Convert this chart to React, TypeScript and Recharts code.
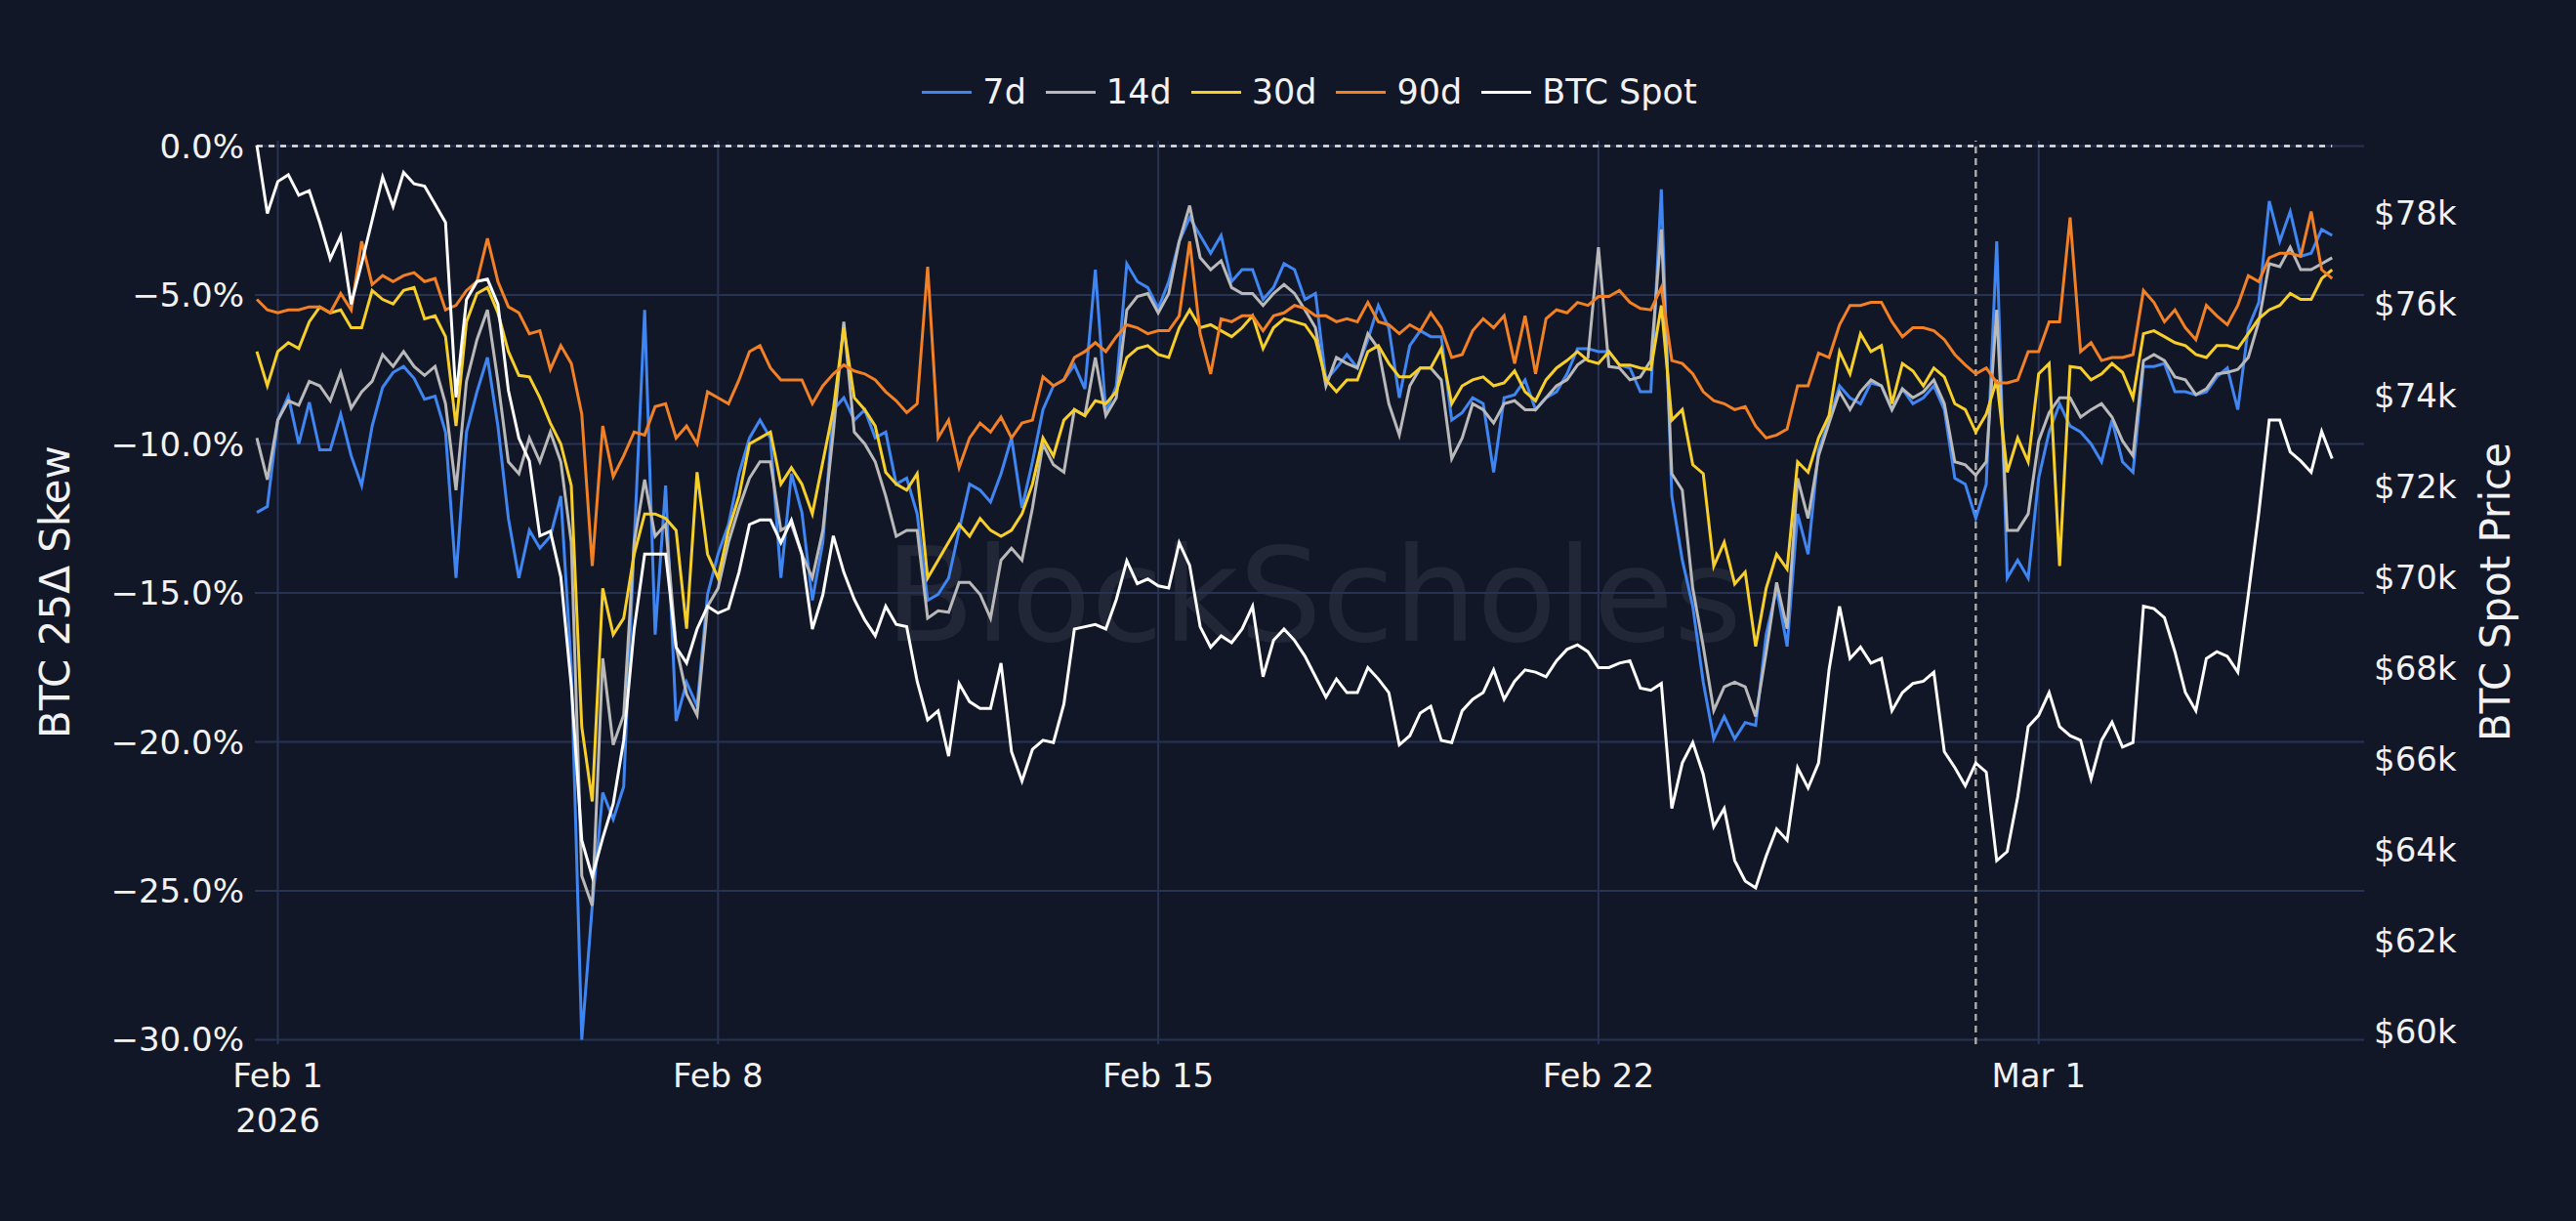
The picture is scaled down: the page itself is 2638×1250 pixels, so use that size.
import React from 'react'
import {
  LineChart,
  Line,
  XAxis,
  YAxis,
  CartesianGrid,
  Legend,
  ReferenceLine
} from 'recharts'

// 4-hourly samples, first one at Jan 31 16:00 UTC
const START = Date.UTC(2026, 0, 31, 16)
const STEP = 4 * 3600 * 1000
const DAY = 86400000
const FEB1 = Date.UTC(2026, 1, 1)

const dateTicks = [FEB1, FEB1 + 7 * DAY, FEB1 + 14 * DAY, FEB1 + 21 * DAY, FEB1 + 28 * DAY]
const skewTicks = [0, -5, -10, -15, -20, -25, -30]
const spotTicks = [60, 62, 64, 66, 68, 70, 72, 74, 76, 78]
const MONTHS = ['Jan', 'Feb', 'Mar']

// 25 delta skew, %
const skew7d = [
  -12.3, -12.1, -9.2, -8.4, -10.0, -8.6, -10.2, -10.2, -9.0, -10.4, -11.4, -9.4, -8.1, -7.6, -7.4, -7.8, -8.5,
  -8.4, -9.6, -14.5, -9.6, -8.25, -7.1, -9.4, -12.5, -14.5, -12.9, -13.5, -13.1, -11.75, -17.5, -30.0, -25.5,
  -21.7, -22.6, -21.5, -13.3, -5.5, -16.4, -11.4, -19.3, -18.0, -18.8, -15.05, -13.7, -12.7, -11.0, -9.8, -9.2,
  -9.8, -14.5, -11.0, -12.3, -15.25, -13.3, -8.85, -8.45, -9.2, -8.85, -9.8, -9.6, -11.35, -11.15, -12.35, -15.25,
  -15.05,
  -14.5, -12.9, -11.35, -11.55, -11.95, -11.0, -9.8, -12.15, -10.6, -8.85, -8.05, -7.85, -7.35, -8.15, -4.15,
  -8.95, -8.05, -3.95, -4.55, -4.75, -5.45, -4.55, -3.2, -2.4, -3.0, -3.6, -3.0, -4.55, -4.15, -4.15, -5.15, -4.75,
  -3.95, -4.15,
  -5.15, -4.95, -7.85, -7.45, -7.0, -7.45, -6.5, -5.35, -6.1, -8.45, -6.7, -6.2, -6.4, -6.4, -9.2, -8.95, -8.45,
  -8.65, -10.95, -8.45, -8.35, -7.85, -8.85, -8.45, -8.25, -7.65, -6.8, -6.8, -6.9, -6.9, -7.35, -7.45, -8.25,
  -8.25, -1.45, -11.75, -13.9, -15.45, -18.0, -19.9, -19.15, -19.9, -19.35, -19.45, -16.4, -14.85, -16.8, -12.35,
  -13.7, -10.2, -9.2, -8.05, -8.45, -8.65, -7.95, -8.05, -8.85, -8.15, -8.65, -8.45, -8.05, -8.85, -11.15, -11.35,
  -12.5, -11.35,
  -3.2, -14.5, -13.9, -14.5, -11.15, -9.6, -8.65, -9.4, -9.6, -10.0, -10.6, -9.2, -10.6, -10.95, -7.4, -7.4, -7.3,
  -8.25, -8.25, -8.35, -8.25, -7.75, -7.45, -8.85, -6.1, -5.25, -1.85, -3.2, -2.2, -3.7, -3.6, -2.8, -3.0
]

const skew14d = [
  -9.8, -11.2, -9.2, -8.55, -8.7, -7.9, -8.05, -8.55, -7.6, -8.8, -8.25, -7.9, -7.0, -7.4, -6.9, -7.4, -7.7, -7.4,
  -8.65, -11.55, -7.9, -6.5, -5.5, -7.9, -10.6, -11.0, -9.8, -10.6, -9.6, -10.6, -13.3, -24.5, -25.5,
  -17.2, -20.1, -19.1, -13.3, -11.2, -13.1, -12.7, -16.8, -18.4, -19.1, -15.45, -14.85, -13.3, -12.15, -11.15,
  -10.6, -10.6, -12.9, -12.7, -13.7, -14.5, -12.9, -9.6, -5.9, -9.6, -10.0, -10.6, -11.75, -13.1, -12.9, -12.9,
  -15.85, -15.6,
  -15.65, -14.65, -14.65, -15.05, -15.85, -13.9, -13.5, -13.9, -12.15, -10.0, -10.7, -10.95, -8.85, -9.05, -7.1,
  -9.05, -8.45, -5.5, -5.05, -4.95, -5.6, -4.95, -3.2, -2.0, -3.75, -4.15, -3.85, -4.75, -4.95, -4.95, -5.35, -4.95,
  -4.65, -4.95,
  -5.5, -6.1, -8.05, -7.1, -7.3, -7.45, -6.3, -6.8, -8.65, -9.7, -8.05, -7.45, -7.45, -7.85, -10.5, -9.8, -8.65,
  -8.85, -9.3, -8.65, -8.55, -8.85, -8.85, -8.45, -8.05, -7.85, -7.35, -7.1, -3.4, -7.4, -7.45, -7.85, -7.75,
  -7.2, -2.8, -11.0, -11.55, -14.85, -16.8, -18.95, -18.15, -18.0, -18.15, -19.15, -17.0, -14.65, -16.2, -11.15,
  -12.5, -10.4, -9.3, -8.25, -8.85, -8.25, -7.85, -8.05, -8.85, -8.15, -8.45, -8.25, -7.85, -8.65, -10.6, -10.7,
  -11.05, -10.6,
  -5.5, -12.9, -12.9, -12.35, -9.9, -8.95, -8.45, -8.45, -9.1, -8.85, -8.65, -9.1, -9.9, -10.4, -7.2, -7.0, -7.2,
  -7.75, -7.85, -8.35, -8.15, -7.65, -7.6, -7.5, -7.1, -5.9, -3.95, -4.05, -3.4, -4.15, -4.15, -3.95, -3.75
]

const skew30d = [
  -6.9, -8.05, -6.9, -6.6, -6.8, -5.9, -5.4, -5.6, -5.5, -6.1, -6.1, -4.85, -5.15, -5.3, -4.85, -4.75, -5.8, -5.7,
  -6.4, -9.4, -5.9, -4.95, -4.75, -5.6, -6.9, -7.7, -7.75, -8.45, -9.3, -10.0, -11.4, -19.5, -22.0,
  -14.85, -16.4, -15.85, -13.7, -12.35, -12.35, -12.5, -12.9, -16.2, -10.95, -13.7, -14.5, -12.9, -11.75, -10.0,
  -9.8, -9.6, -11.35, -10.8, -11.35, -12.35, -10.6, -8.85, -6.1, -8.45, -8.85, -9.4, -10.95, -11.35, -11.55, -11.0,
  -14.5, -13.9,
  -13.3, -12.7, -13.1, -12.5, -12.9, -13.1, -12.9, -12.35, -11.35, -9.8, -10.4, -9.2, -8.85, -9.05, -8.55, -8.65,
  -8.25, -7.1, -6.8, -6.7, -7.0, -7.1, -6.1, -5.5, -6.1, -6.0, -6.2, -6.4, -6.1, -5.7, -6.8, -6.1, -5.8, -5.9,
  -6.0, -6.5, -7.85, -8.25, -7.85, -7.85, -6.9, -6.7, -7.3, -7.75, -7.75, -7.45, -7.45, -6.8, -8.65, -8.05, -7.85,
  -7.75, -8.05, -7.95, -7.55, -8.25, -8.55, -7.85, -7.45, -7.2, -6.9, -7.2, -7.3, -6.9, -7.35, -7.35, -7.45,
  -7.5, -5.35, -9.2, -8.85, -10.7, -11.0, -14.1, -13.3, -14.7, -14.3, -16.8, -14.85, -13.7, -14.2, -10.6, -10.95,
  -9.8, -9.05, -6.9, -7.65, -6.3, -6.9, -6.7, -8.65, -7.3, -7.55, -8.05, -7.45, -7.75, -8.65, -8.85, -9.6, -9.0,
  -7.85, -10.95, -9.8, -10.6, -7.65, -7.3, -14.1, -7.4, -7.45, -7.85, -7.65, -7.3, -7.6, -8.45, -6.3, -6.2, -6.4,
  -6.6, -6.7, -7.0, -7.1, -6.7, -6.7, -6.8, -6.3, -5.8, -5.5, -5.35, -4.95, -5.15, -5.15, -4.45, -4.15
]

const skew90d = [
  -5.15, -5.5, -5.6, -5.5, -5.5, -5.4, -5.4, -5.6, -4.95, -5.5, -3.2, -4.65, -4.35, -4.55, -4.35, -4.25, -4.55,
  -4.45, -5.5, -5.35, -4.85, -4.55, -3.1, -4.55, -5.4, -5.6, -6.3, -6.2, -7.5, -6.7, -7.3, -9.0, -14.1,
  -9.4, -11.1, -10.4, -9.6, -9.7, -8.75, -8.65, -9.8, -9.4, -10.0, -8.25, -8.45, -8.65, -7.85, -6.9, -6.7, -7.45,
  -7.85, -7.85, -7.85, -8.65, -8.05, -7.65, -7.35, -7.55, -7.65, -7.85, -8.25, -8.55, -8.95, -8.65, -4.05, -9.8,
  -9.2, -10.8, -9.8, -9.3, -9.6, -9.1, -9.8, -9.3, -9.2, -7.75, -8.05, -7.85, -7.1, -6.9, -6.6, -6.9, -6.4, -6.0,
  -6.1, -6.3, -6.2, -6.2, -5.7, -3.2, -6.3, -7.65, -5.8, -5.9, -5.7, -5.7, -6.2, -5.7, -5.6, -5.35,
  -5.45, -5.7, -5.7, -5.9, -5.8, -5.9, -5.25, -5.9, -6.0, -6.3, -6.0, -6.2, -5.6, -6.1, -7.1, -7.0, -6.2, -5.8,
  -6.1, -5.7, -7.3, -5.7, -7.65, -5.8, -5.5, -5.6, -5.25, -5.35, -5.05, -5.05, -4.85, -5.25, -5.45,
  -5.5, -4.75, -7.2, -7.3, -7.65, -8.25, -8.55, -8.65, -8.85, -8.75, -9.4, -9.8, -9.7, -9.5, -8.05, -8.05, -6.95,
  -7.1, -6.0, -5.35, -5.35, -5.25, -5.25, -5.9, -6.4, -6.1, -6.1, -6.2, -6.5, -7.0, -7.35, -7.65, -7.45,
  -7.95, -7.95, -7.85, -6.9, -6.9, -5.9, -5.9, -2.4, -6.9, -6.6, -7.2, -7.1, -7.1, -7.0, -4.85, -5.25, -5.9, -5.5,
  -6.1, -6.5, -5.35, -5.7, -6.0, -5.35, -4.35, -4.55, -3.75, -3.6, -3.6, -3.7, -2.2, -4.15, -4.45
]

// BTC spot, $k
const btcSpot = [
  79.5, 78.0, 78.7, 78.85, 78.4, 78.5, 77.8, 77.0, 77.5, 76.0, 76.9, 77.85, 78.8, 78.15, 78.9, 78.65, 78.6, 78.2,
  77.8, 73.95, 76.1, 76.5, 76.55, 76.0, 74.1, 73.05, 72.55, 70.9, 71.0, 70.0, 67.6, 64.2, 63.4,
  64.25, 65.0, 66.4, 68.85, 70.5, 70.5, 70.5, 68.45, 68.1, 68.85, 69.35, 69.2, 69.3, 70.1, 71.15, 71.25, 71.25,
  70.75, 71.25, 70.5, 68.85, 69.6, 70.9, 70.1, 69.5, 69.05, 68.7, 69.35, 68.95, 68.9, 67.7, 66.85, 67.05,
  66.05, 67.65, 67.25, 67.1, 67.1, 68.1, 66.15, 65.5, 66.2, 66.4, 66.35, 67.2, 68.85, 68.9, 68.95, 68.85, 69.5,
  70.35, 69.85, 69.95, 69.8, 69.75, 70.75, 70.25, 68.9, 68.45, 68.7, 68.55, 68.85, 69.35, 67.8, 68.6, 68.85, 68.6,
  68.25, 67.8, 67.35, 67.75, 67.45, 67.45, 68.0, 67.75, 67.45, 66.3, 66.5, 67.0, 67.15, 66.4, 66.35, 67.05, 67.3,
  67.45, 67.95, 67.3, 67.7, 67.95, 67.9, 67.8, 68.15, 68.4, 68.5, 68.35, 68.0, 68.0, 68.1, 68.15, 67.55,
  67.5, 67.65, 64.9, 65.9, 66.35, 65.65, 64.5, 64.9, 63.75, 63.3, 63.15, 63.85, 64.45, 64.2, 65.8, 65.35, 65.9,
  67.95, 69.35, 68.2, 68.45, 68.1, 68.2, 67.05, 67.45, 67.65, 67.7, 67.9, 66.15, 65.8, 65.4, 65.9, 65.7,
  63.75, 63.95, 65.15, 66.7, 66.95, 67.45, 66.7, 66.5, 66.4, 65.55, 66.4, 66.8, 66.25, 66.35, 69.35, 69.3, 69.1,
  68.35, 67.45, 67.05, 68.2, 68.35, 68.25, 67.9, 69.6, 71.4, 73.45, 73.45, 72.75, 72.55, 72.3, 73.2, 72.6
]

const series = [
  { key: 's7', name: '7d', color: '#3f86f2' },
  { key: 's14', name: '14d', color: '#b9b9b9' },
  { key: 's30', name: '30d', color: '#f7cf2a' },
  { key: 's90', name: '90d', color: '#f28024' },
  { key: 'spot', name: 'BTC Spot', color: '#ffffff' }
]

const times = btcSpot.map((_, i) => START + i * STEP)
const chartData = times.map((t, i) => ({
  t,
  s7: skew7d[i],
  s14: skew14d[i],
  s30: skew30d[i],
  s90: skew90d[i],
  spot: btcSpot[i]
}))

const BG = '#121728'
const GRID = '#283353'
const TEXT = '#f2f2f2'
const FONT = '"DejaVu Sans", Verdana, sans-serif'

const fmtDate = (t: number) => {
  const d = new Date(t)
  return MONTHS[d.getUTCMonth()] + ' ' + d.getUTCDate()
}

const fmtSkew = (v: number) =>
  v === 0 ? '0.0%' : '\u2212' + Math.abs(v).toFixed(1) + '%'

const DateTick = (props: any) => {
  const {x, y, payload} = props
  return (
    <g>
      <text x={x} y={y + 44} textAnchor="middle" fill={TEXT} fontSize={34} fontFamily={FONT}>
        {fmtDate(payload.value)}
      </text>
      {payload.value === FEB1 && (
        <text x={x} y={y + 90} textAnchor="middle" fill={TEXT} fontSize={34} fontFamily={FONT}>
          2026
        </text>
      )}
    </g>
  )
}

const renderLegend = () => (
  <div
    style={{
      display: 'flex',
      justifyContent: 'center',
      alignItems: 'center',
      height: 48,
      width: 2638,
      paddingLeft: 44,
      boxSizing: 'border-box',
      fontFamily: FONT,
      fontSize: 35,
      color: TEXT
    }}
  >
    {series.map((s, i) => (
      <div
        key={s.key}
        style={{display: 'flex', alignItems: 'center', marginLeft: i === 0 ? 0 : 20}}
      >
        <div style={{width: 51, height: 3, background: s.color, marginRight: 11}} />
        <span style={{whiteSpace: 'nowrap'}}>{s.name}</span>
      </div>
    ))}
  </div>
)

const App: React.FC = () => {
  return (
    <div
      style={{
        position: 'absolute',
        left: 0,
        top: 0,
        width: 2638,
        height: 1250,
        background: BG,
        overflow: 'hidden'
      }}
    >
      <div
        style={{
          position: 'absolute',
          left: 1345,
          top: 610,
          transform: 'translate(-50%, -50%)',
          fontFamily: FONT,
          fontSize: 134,
          color: 'rgba(255,255,255,0.07)',
          whiteSpace: 'nowrap'
        }}
      >
        BlockScholes
      </div>
      <div style={{position: 'absolute', left: 0, top: 0}}>
        <LineChart
          width={2638}
          height={1250}
          data={chartData}
          margin={{top: 144, right: 0, bottom: 0, left: 0}}
        >
          <CartesianGrid stroke={GRID} strokeWidth={2} yAxisId="left" syncWithTicks />
          <XAxis
            dataKey="t"
            type="number"
            domain={[FEB1 - 0.365 * DAY, FEB1 + 33.175 * DAY]}
            ticks={dateTicks}
            interval={0}
            height={181}
            axisLine={false}
            tickLine={false}
            tickSize={0}
            tickMargin={0}
            tick={<DateTick />}
          />
          <YAxis
            yAxisId="left"
            orientation="left"
            width={261}
            domain={[-30.15, 0.18]}
            ticks={skewTicks}
            interval={0}
            axisLine={false}
            tickLine={false}
            tickSize={0}
            tickMargin={11}
            tickFormatter={fmtSkew}
            tick={{fill: TEXT, fontSize: 34, fontFamily: FONT}}
            label={() => (
              <text
                x={56}
                y={606}
                transform="rotate(-90 56 606)"
                textAnchor="middle"
                dominantBaseline="central"
                fill={TEXT}
                fontSize={42}
                fontFamily={FONT}
              >
                BTC 25Δ Skew
              </text>
            )}
          />
          <YAxis
            yAxisId="right"
            orientation="right"
            width={217}
            domain={[59.71, 79.6]}
            ticks={spotTicks}
            interval={0}
            axisLine={false}
            tickLine={false}
            tickSize={0}
            tickMargin={10}
            tickFormatter={(v: number) => '$' + v + 'k'}
            tick={{fill: TEXT, fontSize: 34, fontFamily: FONT}}
            label={() => (
              <text
                x={2555}
                y={606}
                transform="rotate(-90 2555 606)"
                textAnchor="middle"
                dominantBaseline="central"
                fill={TEXT}
                fontSize={42}
                fontFamily={FONT}
              >
                BTC Spot Price
              </text>
            )}
          />
          <Legend
            verticalAlign="middle"
            align="center"
            wrapperStyle={{top: 70, left: 0, width: 2638}}
            content={renderLegend}
          />
          <ReferenceLine
            yAxisId="left"
            segment={[
              {x: times[0], y: 0},
              {x: times[times.length - 1], y: 0}
            ]}
            stroke="#e8e8e8"
            strokeWidth={2.5}
            strokeDasharray="6 6"
          />
          <ReferenceLine
            yAxisId="left"
            x={FEB1 + 27 * DAY}
            stroke="#a8a8a8"
            strokeWidth={2.5}
            strokeDasharray="7 5"
          />
          {series.map((s) => (
            <Line
              key={s.key}
              yAxisId={s.key === 'spot' ? 'right' : 'left'}
              type="linear"
              dataKey={s.key}
              name={s.name}
              stroke={s.color}
              strokeWidth={3}
              dot={false}
              activeDot={false}
              isAnimationActive={false}
            />
          ))}
        </LineChart>
      </div>
    </div>
  )
}

export default App
